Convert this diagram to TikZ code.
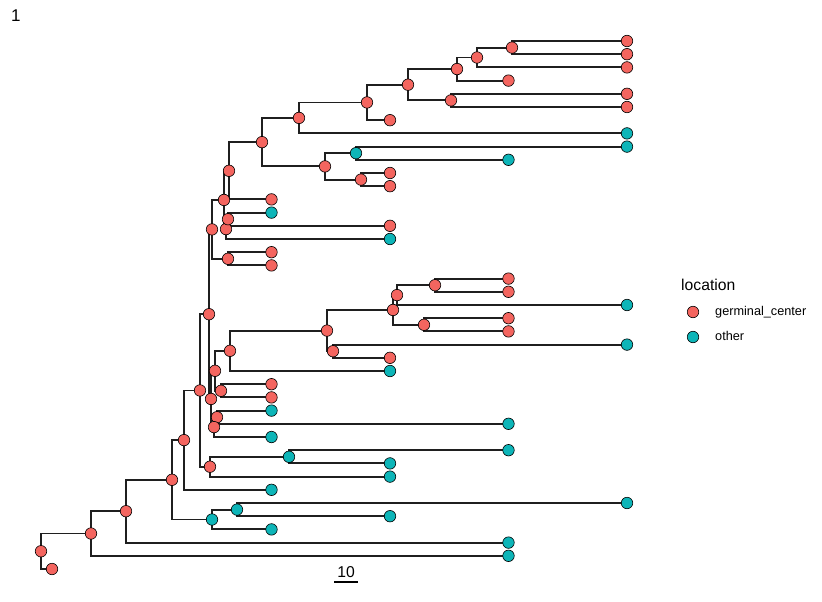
\documentclass[tikz,border=0pt]{standalone}
\usepackage{fontspec}
\setmainfont{Liberation Sans}
\pgfdeclarelayer{bg}
\pgfsetlayers{bg,main}
\definecolor{gcred}{HTML}{F4655F}
\definecolor{othteal}{HTML}{0DB5B8}
\begin{document}
\begin{tikzpicture}[x=1pt,y=-1pt,
  gc/.style={circle,draw=black,fill=gcred,line width=0.6pt,minimum size=11.5pt,inner sep=0pt},
  ot/.style={gc,fill=othteal},
  br/.style={draw=black!88,line width=1.9pt},
  lab/.style={font=\fontsize{12.7}{14}\selectfont,anchor=base west,inner sep=0pt},
  ttl/.style={font=\fontsize{15.7}{18}\selectfont,anchor=base west,inner sep=0pt}]
\useasboundingbox (0,0) rectangle (822,602);
% internal nodes
\node[gc] (R0) at (41,551.25) {};
\node[gc] (A) at (91,533.5) {};
\node[gc] (B) at (126,511.2) {};
\node[gc] (C) at (172,479.8) {};
\node[gc] (D) at (184,440.1) {};
\node[ot] (E) at (212,519.5) {};
\node[ot] (F) at (237,509.6) {};
\node[gc] (G) at (200,390.45) {};
\node[gc] (H) at (209,314.2) {};
\node[gc] (I) at (210,466.7) {};
\node[ot] (J) at (289,456.8) {};
\node[gc] (K) at (215,370.8) {};
\node[gc] (L) at (221,390.8) {};
\node[gc] (M) at (211,398.95) {};
\node[gc] (N) at (217,417.2) {};
\node[gc] (O) at (214,427.1) {};
\node[gc] (P) at (333,351.2) {};
\node[gc] (Rn) at (327,330.6) {};
\node[gc] (S) at (230,350.8) {};
\node[gc] (T) at (393,309.95) {};
\node[gc] (U) at (435,285.2) {};
\node[gc] (V) at (397,295.1) {};
\node[gc] (W) at (424,324.8) {};
\node[gc] (p) at (212,229.4) {};
\node[gc] (m) at (224,199.95) {};
\node[gc] (l) at (229,170.8) {};
\node[gc] (k) at (262,142.15) {};
\node[gc] (g) at (299,117.9) {};
\node[gc] (f) at (367,102.45) {};
\node[gc] (e) at (408,84.7) {};
\node[gc] (c) at (457,69.05) {};
\node[gc] (b) at (477,57.5) {};
\node[gc] (a) at (512,47.6) {};
\node[gc] (d) at (451,100.4) {};
\node[gc] (j) at (325,166.4) {};
\node[ot] (h) at (356,153.2) {};
\node[gc] (i) at (361,179.6) {};
\node[gc] (o) at (226,229.1) {};
\node[gc] (n) at (228,219.2) {};
\node[gc] (q) at (228,258.8) {};
% tips
\node[gc] (t0) at (627,41) {};
\node[gc] (t1) at (627,54.2) {};
\node[gc] (t2) at (627,67.4) {};
\node[gc] (t3) at (508.5,80.6) {};
\node[gc] (t4) at (627,93.8) {};
\node[gc] (t5) at (627,107) {};
\node[gc] (t6) at (390,120.2) {};
\node[ot] (t7) at (627,133.4) {};
\node[ot] (t8) at (627,146.6) {};
\node[ot] (t9) at (508.5,159.8) {};
\node[gc] (t10) at (390,173) {};
\node[gc] (t11) at (390,186.2) {};
\node[gc] (t12) at (271.5,199.4) {};
\node[ot] (t13) at (271.5,212.6) {};
\node[gc] (t14) at (390,225.8) {};
\node[ot] (t15) at (390,239) {};
\node[gc] (t16) at (271.5,252.2) {};
\node[gc] (t17) at (271.5,265.4) {};
\node[gc] (t18) at (508.5,278.6) {};
\node[gc] (t19) at (508.5,291.8) {};
\node[ot] (t20) at (627,305) {};
\node[gc] (t21) at (508.5,318.2) {};
\node[gc] (t22) at (508.5,331.4) {};
\node[ot] (t23) at (627,344.6) {};
\node[gc] (t24) at (390,357.8) {};
\node[ot] (t25) at (390,371) {};
\node[gc] (t26) at (271.5,384.2) {};
\node[gc] (t27) at (271.5,397.4) {};
\node[ot] (t28) at (271.5,410.6) {};
\node[ot] (t29) at (508.5,423.8) {};
\node[ot] (t30) at (271.5,437) {};
\node[ot] (t31) at (508.5,450.2) {};
\node[ot] (t32) at (390,463.4) {};
\node[ot] (t33) at (390,476.6) {};
\node[ot] (t34) at (271.5,489.8) {};
\node[ot] (t35) at (627,503) {};
\node[ot] (t36) at (390,516.2) {};
\node[ot] (t37) at (271.5,529.4) {};
\node[ot] (t38) at (508.5,542.6) {};
\node[ot] (t39) at (508.5,555.8) {};
\node[gc] (t40) at (52,569) {};
% branches
\begin{pgfonlayer}{bg}
\foreach \p/\c in {R0/A,R0/t40,A/B,A/t39,B/C,B/t38,C/D,C/E,E/F,E/t37,F/t35,F/t36,
  D/G,D/t34,G/H,G/I,I/J,I/t33,J/t31,J/t32,H/p,H/M,M/K,M/O,K/S,K/L,S/Rn,S/t25,
  Rn/T,Rn/P,T/V,T/W,V/U,V/t20,U/t18,U/t19,W/t21,W/t22,P/t23,P/t24,L/t26,L/t27,
  O/N,O/t30,N/t28,N/t29,p/m,p/q,m/l,m/o,l/k,l/t12,k/g,k/j,g/f,g/t7,f/e,f/t6,
  e/c,e/d,c/b,c/t3,b/a,b/t2,a/t0,a/t1,d/t4,d/t5,j/h,j/i,h/t8,h/t9,i/t10,i/t11,
  o/n,o/t15,n/t13,n/t14,q/t16,q/t17}
  \draw[br] (\p.center) |- (\c.center);
\end{pgfonlayer}
% title
\node[font=\fontsize{17}{20}\selectfont,anchor=base west,inner sep=0pt] (title) at (11,22) {1};
% scale bar
\coordinate (sbl) at (334,582);
\coordinate (sbr) at (358,582);
\draw[line width=1.5pt] (sbl) -- (sbr);
\node[font=\fontsize{15.7}{18}\selectfont,anchor=base,inner sep=0pt] (sblab) at (346,577) {10};
% legend
\node[ttl] (legtitle) at (681,290) {location};
\node[gc] (key1) at (693,312) {};
\node[ot] (key2) at (693,337) {};
\node[lab] (lab1) at (715,315.5) {germinal\_center};
\node[lab] (lab2) at (715,340.5) {other};
\end{tikzpicture}
\end{document}
